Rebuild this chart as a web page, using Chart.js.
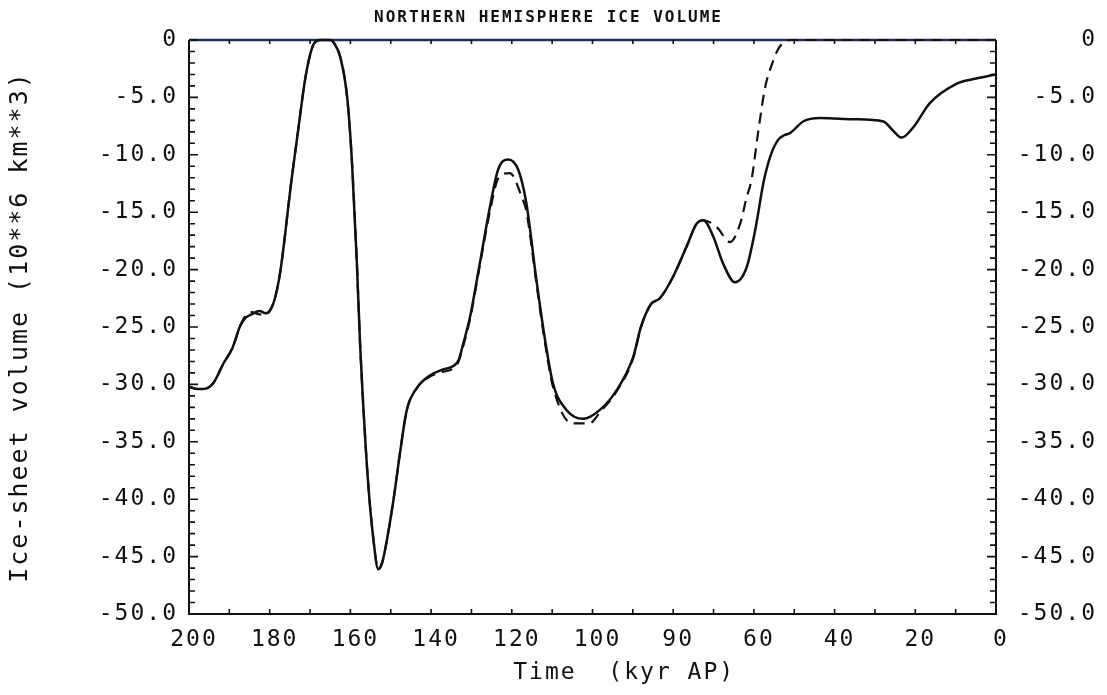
<!DOCTYPE html>
<html>
<head>
<meta charset="utf-8">
<title>Northern Hemisphere Ice Volume</title>
<script src="https://cdn.jsdelivr.net/npm/chart.js@4.4.1/dist/chart.umd.min.js"></script>
<style>
  html, body { margin: 0; padding: 0; background: #fff; }
  canvas { display: block; }
</style>
</head>
<body>
<canvas id="iceChart" width="1107" height="695"></canvas>
<script>
// time in kyr before present, volume in 10**6 km**3 (negative = ice volume)
const modelTime = [200, 198, 196.5, 194, 191.5, 189.2, 187.3, 186, 184.5, 182.5, 181, 180, 178.7, 177.3,
  174.6, 173, 171.3, 170, 169, 167.5, 165, 164, 162.5, 160.8, 159.6, 158.4, 157.6, 156.9, 155.6,
  154.3, 153.1, 152.2, 151.4, 149.3, 147.6, 146, 143.5, 140.2, 137, 134.5, 133.2, 132, 130.4,
  127.9, 125.4, 123.4, 120.9, 118.4, 116.4, 113.9, 111.9, 109.8, 106.5, 102.3, 98.1, 94, 89.9,
  88, 85.5, 83.3, 80, 76.7, 74.2, 72.5, 70.1, 67.6, 64.7, 61.8, 59.7, 57.5, 55.8, 54, 52.5, 51,
  47.8, 43.6, 35.4, 27.9, 25.5, 23.4, 20.5, 16.4, 9.7, 5.6, 0];
const modelVolume = [-30.2, -30.4, -30.4, -29.9, -28.2, -26.8, -24.9, -24.2, -23.9, -23.6, -23.8, -23.6, -22.5, -20.0,
  -12.2, -8.0, -3.6, -1.3, -0.3, 0, 0, -0.3, -1.5, -5.0, -10.7, -19.4, -26.5, -31.3, -38.6,
  -43.5, -46.1, -45.6, -44.4, -40.0, -35.7, -32.2, -30.3, -29.2, -28.7, -28.4, -27.9, -26.4, -24.2,
  -19.4, -14.5, -11.3, -10.4, -11.3, -14.2, -20.9, -25.8, -29.9, -32.2, -33.0, -32.2, -30.5, -27.6,
  -25.0, -23.0, -22.5, -20.6, -18.0, -16.0, -15.7, -17.1, -19.5, -21.1, -19.8, -16.6, -12.2, -10.0, -8.7, -8.3, -8.1,
  -7.1, -6.8, -6.9, -7.1, -7.9, -8.5, -7.6, -5.5, -3.8, -3.4, -3.0];

const altTime = [200, 198, 196.5, 194, 191.5, 189.2, 187.3, 186, 184.5, 182.5, 181, 180, 178.7, 177.3,
  174.6, 173, 171.3, 170, 169, 167.5, 165, 164, 162.5, 160.8, 159.6, 158.4, 157.6, 156.9, 155.6,
  154.3, 153.1, 152.2, 151.4, 149.3, 147.6, 146, 143.5, 140.2, 137, 134.5, 133.2, 132, 130.4,
  127.9, 125.4, 123.4, 120.5, 117.5, 116.4, 113.9, 111.9, 109.8, 105, 100.8, 98.1, 94, 89.9,
  88, 85.5, 83.3, 80, 76.7, 74.2, 72.5, 69.2, 65.9, 63.4, 61.8, 60.6, 58.9, 57.2, 55.2, 54, 52.5, 51,
  40, 25, 0];
const altVolume = [-30.2, -30.4, -30.4, -29.9, -28.2, -26.8, -24.9, -24.0, -23.7, -23.9, -23.9, -23.6, -22.5, -20.0,
  -12.2, -8.0, -3.6, -1.3, -0.3, 0, 0, -0.3, -1.5, -5.0, -10.7, -19.4, -26.5, -31.3, -38.6,
  -43.5, -46.1, -45.6, -44.4, -40.0, -35.7, -32.2, -30.3, -29.3, -28.9, -28.6, -28.0, -26.6, -24.4,
  -19.6, -14.9, -12.1, -11.6, -13.7, -14.9, -21.2, -26.1, -30.2, -33.4, -33.4, -32.4, -30.6, -27.7,
  -25.0, -23.0, -22.5, -20.6, -18.0, -16.0, -15.7, -16.3, -17.6, -16.0, -13.7, -12.2, -7.9, -4.1, -1.8, -0.8, -0.2, 0,
  0, 0, 0];

const xTickValues = [200, 180, 160, 140, 120, 100, 80, 60, 40, 20, 0];
const xTickLabels = ['200', '180', '160', '140', '120', '100', '90', '60', '40', '20', '0'];
const yTickValues = [0, -5, -10, -15, -20, -25, -30, -35, -40, -45, -50];
const yTickLabels = ['0', '-5.0', '-10.0', '-15.0', '-20.0', '-25.0', '-30.0', '-35.0', '-40.0', '-45.0', '-50.0'];

const FONT = 'DejaVu Sans Mono';
const INK = '#111';

const toPoints = (xs, ys) => xs.map((t, i) => ({ x: t, y: ys[i] }));
const xLabel = (v) => xTickLabels[xTickValues.indexOf(v)] ?? '';
const yLabel = (v) => yTickLabels[yTickValues.indexOf(v)] ?? '';

// wide plotter-style lettering
const spacing = {
  id: 'spacing',
  beforeLayout(chart) { chart.ctx.letterSpacing = '2px'; },
  beforeDraw(chart) { chart.ctx.letterSpacing = '2px'; }
};

// frame with inward ticks on all four sides
const frameTicks = {
  id: 'frameTicks',
  beforeDatasetsDraw(chart) {
    const { ctx, chartArea: a, scales: { x, y } } = chart;
    ctx.save();
    ctx.lineWidth = 2;
    ctx.strokeStyle = INK;
    ctx.beginPath();
    ctx.moveTo(a.left, a.top);
    ctx.lineTo(a.left, a.bottom);
    ctx.lineTo(a.right, a.bottom);
    ctx.lineTo(a.right, a.top);
    ctx.stroke();
    ctx.strokeStyle = '#1f2a78';
    ctx.lineWidth = 2.5;
    ctx.beginPath();
    ctx.moveTo(a.left, a.top);
    ctx.lineTo(a.right, a.top);
    ctx.stroke();

    ctx.strokeStyle = INK;
    ctx.lineWidth = 1.6;
    ctx.beginPath();
    for (let v = 0; v >= -50; v--) {
      const py = y.getPixelForValue(v);
      const len = v % 5 === 0 ? 9 : 6;
      ctx.moveTo(a.left, py);
      ctx.lineTo(a.left + len, py);
      ctx.moveTo(a.right, py);
      ctx.lineTo(a.right - len, py);
    }
    for (let t = 0; t <= 200; t += 10) {
      const px = x.getPixelForValue(t);
      ctx.moveTo(px, a.bottom);
      ctx.lineTo(px, a.bottom - 5);
      ctx.moveTo(px, a.top);
      ctx.lineTo(px, a.top + 4);
    }
    ctx.stroke();
    ctx.restore();
  }
};

const tickFont = { family: FONT, size: 23 };

new Chart(document.getElementById('iceChart'), {
  type: 'line',
  data: {
    datasets: [
      {
        label: 'alternative',
        data: toPoints(altTime, altVolume),
        borderColor: INK,
        borderWidth: 2.2,
        borderDash: [11, 7],
        pointRadius: 0,
        cubicInterpolationMode: 'monotone',
        clip: 4
      },
      {
        label: 'model',
        data: toPoints(modelTime, modelVolume),
        borderColor: INK,
        borderWidth: 2.5,
        pointRadius: 0,
        cubicInterpolationMode: 'monotone',
        clip: 4
      }
    ]
  },
  options: {
    responsive: false,
    animation: false,
    devicePixelRatio: 1,
    layout: { padding: { left: 0, right: 10, top: 0, bottom: 0 } },
    plugins: {
      legend: { display: false },
      tooltip: { enabled: false },
      title: {
        display: true,
        text: 'NORTHERN HEMISPHERE ICE VOLUME',
        color: INK,
        font: { family: FONT, size: 16, weight: 'bold' },
        padding: { top: 8, bottom: 12.8 }
      }
    },
    scales: {
      x: {
        type: 'linear',
        position: 'bottom',
        reverse: true,
        min: 0,
        max: 200,
        afterBuildTicks: (s) => { s.ticks = xTickValues.map((v) => ({ value: v })); },
        ticks: {
          callback: xLabel,
          color: INK,
          font: tickFont,
          padding: 12,
          labelOffset: 5,
          maxRotation: 0,
          autoSkip: false
        },
        grid: { display: false, drawTicks: false },
        border: { display: false },
        title: {
          display: true,
          // leading blanks push the caption a little right of centre
          text: '    Time  (kyr AP)',
          color: INK,
          font: { family: FONT, size: 23 },
          padding: { top: 0, bottom: 8 }
        },
        afterFit: (s) => { s.height = 81; }
      },
      y: {
        position: 'left',
        min: -50,
        max: 0,
        afterBuildTicks: (s) => { s.ticks = yTickValues.map((v) => ({ value: v })); },
        ticks: { callback: yLabel, color: INK, font: tickFont, padding: 11 },
        grid: { display: false, drawTicks: false },
        border: { display: false },
        title: {
          display: true,
          text: 'Ice-sheet volume (10**6 km**3)',
          color: INK,
          font: { family: FONT, size: 25 },
          padding: { top: 5, bottom: 0 }
        },
        afterFit: (s) => { s.width = 189; }
      },
      y2: {
        position: 'right',
        min: -50,
        max: 0,
        afterBuildTicks: (s) => { s.ticks = yTickValues.map((v) => ({ value: v })); },
        ticks: { callback: yLabel, color: INK, font: tickFont, crossAlign: 'far' },
        grid: { display: false, drawTicks: false },
        border: { display: false },
        afterFit: (s) => { s.width = 101; }
      }
    }
  },
  plugins: [spacing, frameTicks]
});
</script>
</body>
</html>
